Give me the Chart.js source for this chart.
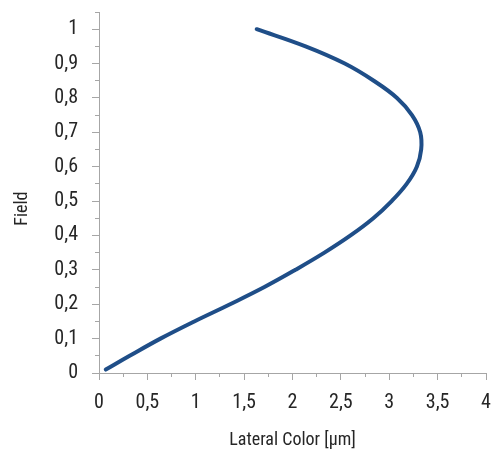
<!DOCTYPE html>
<html>
<head>
<meta charset="utf-8">
<script src="https://cdn.jsdelivr.net/npm/chart.js@4"></script>
<style>
  html, body { margin: 0; padding: 0; background: #fff; }
  #wrap { width: 503px; height: 456px; }
</style>
</head>
<body>
<div id="wrap"><canvas id="c" width="503" height="456"></canvas></div>
<script>
// Field (relative) along the curve
const fieldValues = [0.01, 0.05, 0.10, 0.15, 0.20, 0.25, 0.30, 0.35, 0.40, 0.45, 0.50,
                     0.55, 0.60, 0.65, 0.70, 0.75, 0.80, 0.85, 0.90, 0.95, 1.00];
// Lateral Color [µm] at each field
const lateralColor = [0.07, 0.317, 0.635, 0.985, 1.355, 1.71, 2.03, 2.33, 2.60, 2.835, 3.025,
                      3.18, 3.285, 3.33, 3.32, 3.235, 3.08, 2.84, 2.54, 2.135, 1.63];
const xTickRange = [0, 4];
const yTickRange = [0, 1.05];

const points = fieldValues.map((f, i) => ({ x: lateralColor[i], y: f }));

const FONT = "'Roboto Condensed', 'DejaVu Sans Condensed', sans-serif";
const AXIS = '#a6a6a6';
const TEXT = '#262626';
const fmt = v => String(Math.round(v * 100) / 100).replace('.', ',');
const noPad = s => { s.paddingTop = 0; s.paddingBottom = 0; s.paddingLeft = 0; s.paddingRight = 0; };

new Chart(document.getElementById('c'), {
  type: 'scatter',
  data: {
    datasets: [{
      data: points,
      showLine: true,
      borderColor: '#1f4e88',
      borderWidth: 4,
      borderCapStyle: 'round',
      pointRadius: 0,
      tension: 0.4,
      fill: false
    }]
  },
  options: {
    responsive: false,
    animation: false,
    devicePixelRatio: 1,
    layout: { padding: { left: 0, right: 17, top: 12, bottom: 0 } },
    plugins: { legend: { display: false }, tooltip: { enabled: false } },
    scales: {
      x: {
        type: 'linear', position: 'bottom', weight: 1,
        min: xTickRange[0], max: xTickRange[1],
        ticks: { stepSize: 0.5, color: TEXT, font: { family: FONT, size: 20 }, padding: 11,
                 callback: v => fmt(v), maxRotation: 0, autoSkip: false, includeBounds: false },
        grid: { drawOnChartArea: false, color: AXIS, tickLength: 7, tickColor: AXIS },
        border: { color: AXIS, width: 1 },
        title: { display: true, text: 'Lateral Color [µm]', color: TEXT,
                 font: { family: FONT, size: 18 }, padding: { top: 0, bottom: 5 } },
        afterFit: s => { s.height = 83; noPad(s); }
      },
      xMinor: {
        type: 'linear', position: 'bottom', weight: 0,
        min: xTickRange[0], max: xTickRange[1],
        ticks: { stepSize: 0.25, display: false },
        grid: { drawOnChartArea: false, color: AXIS, tickLength: 4, tickColor: AXIS },
        border: { display: false },
        afterFit: s => { s.height = 0; noPad(s); }
      },
      y: {
        type: 'linear', position: 'left', weight: 1,
        min: yTickRange[0], max: yTickRange[1],
        ticks: { stepSize: 0.1, color: TEXT, font: { family: FONT, size: 20 }, padding: 14,
                 callback: v => fmt(v), autoSkip: false, includeBounds: false },
        grid: { drawOnChartArea: false, color: AXIS, tickLength: 7, tickColor: AXIS },
        border: { color: AXIS, width: 1 },
        title: { display: true, text: 'Field\u2002\u2002\u2002\u2002', color: TEXT,
                 font: { family: FONT, size: 18 }, padding: { top: 12, bottom: 0 } },
        afterFit: s => { s.width = 99; noPad(s); }
      },
      yMinor: {
        type: 'linear', position: 'left', weight: 0,
        min: yTickRange[0], max: yTickRange[1],
        ticks: { stepSize: 0.05, display: false },
        grid: { drawOnChartArea: false, color: AXIS, tickLength: 4, tickColor: AXIS },
        border: { display: false },
        afterFit: s => { s.width = 0; noPad(s); }
      }
    }
  }
});
</script>
</body>
</html>
